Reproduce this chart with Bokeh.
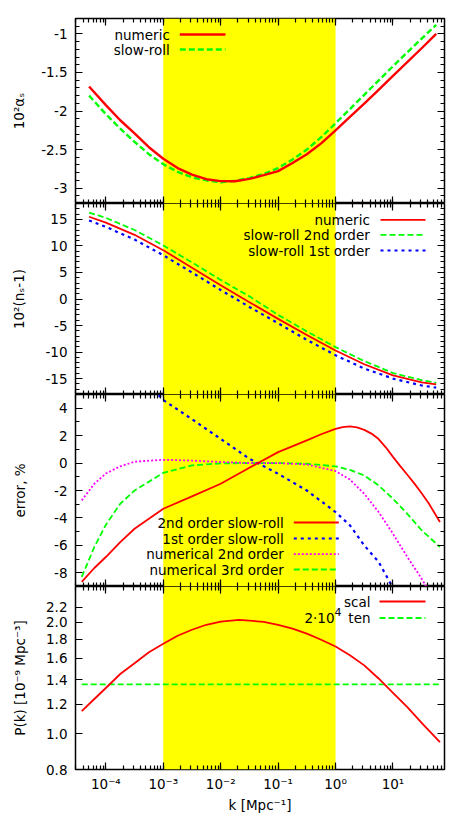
from bokeh.plotting import figure
from bokeh.models import BoxAnnotation, Label, Arrow, FixedTicker, LinearAxis, LogAxis, Range1d
from bokeh.layouts import column
from bokeh.embed import file_html
from bokeh.resources import INLINE

FONT = "DejaVu Sans"
FS = "13.5px"
FS_S = "11px"

# ---------------- data ----------------
band = [1.0e-3, 1.0]
x_lim = [2.96e-5, 79.0]
x_ticks = [1e-4, 1e-3, 1e-2, 1e-1, 1e0, 1e1]
x_tick_labels = ["10⁻⁴", "10⁻³", "10⁻²", "10⁻¹", "10⁰", "10¹"]
x_title = "k [Mpc⁻¹]"

# panel 1 : running alpha_s
k_alpha = [5.1e-5, 1.0e-4, 1.78e-4, 3.16e-4, 5.62e-4, 1.0e-3, 1.78e-3, 3.16e-3, 5.62e-3, 1.0e-2,
           1.78e-2, 3.16e-2, 5.62e-2, 0.1, 0.178, 0.316, 0.562, 1.0, 1.78, 3.16, 5.62, 10.0, 31.6, 56.6]
alpha_numeric = [-1.683, -1.924, -2.12, -2.29, -2.47, -2.62, -2.74, -2.826, -2.885, -2.91,
                 -2.912, -2.88, -2.833, -2.78, -2.675, -2.56, -2.42, -2.25, -2.075, -1.905, -1.725, -1.544, -1.186, -1.0]
alpha_slowroll = [-1.80, -2.04, -2.23, -2.40, -2.56, -2.69, -2.79, -2.86, -2.90, -2.925,
                  -2.905, -2.87, -2.815, -2.74, -2.63, -2.50, -2.34, -2.16, -1.975, -1.79, -1.605, -1.42, -1.06, -0.883]
alpha_lim = [-3.2, -0.8]
alpha_ticks = [-3.0, -2.5, -2.0, -1.5, -1.0]
alpha_tick_labels = ["-3", "-2.5", "-2", "-1.5", "-1"]
alpha_title = "10²αₛ"

# panel 2 : spectral index
k_ns = [5.1e-5, 1.0e-4, 3.16e-4, 1.0e-3, 3.16e-3, 1.0e-2, 3.16e-2, 0.1, 0.316, 1.0, 3.16, 10.0, 31.6, 56.6]
ns_numeric = [15.5, 14.4, 12.1, 9.2, 5.9, 2.6, -0.6, -3.75, -6.8, -9.7, -12.3, -14.4, -15.7, -16.1]
ns_sr2 = [16.3, 15.3, 13.0, 10.1, 6.9, 3.6, 0.5, -3.0, -6.1, -9.07, -11.7, -13.95, -15.3, -15.8]
ns_sr1 = [14.8, 13.6, 11.2, 8.25, 5.0, 1.7, -1.5, -4.57, -7.7, -10.6, -13.1, -15.0, -16.3, -16.7]
ns_lim = [-18, 18]
ns_ticks = [-15, -10, -5, 0, 5, 10, 15]
ns_tick_labels = ["-15", "-10", "-5", "0", "5", "10", "15"]
ns_title = "10²(nₛ-1)"

# panel 3 : errors in %
k_sr2 = [3.8e-5, 6.3e-5, 1.0e-4, 1.78e-4, 3.16e-4, 1.0e-3, 3.16e-3, 1.0e-2, 3.16e-2, 0.1, 0.316, 0.562,
         1.0, 1.33, 1.78, 2.37, 3.16, 4.22, 5.62, 7.5, 10.0, 13.3, 17.8, 23.7, 31.6, 42.2, 65.8]
err_sr2 = [-8.67, -7.65, -6.85, -5.76, -4.79, -3.33, -2.43, -1.51, -0.34, 0.8, 1.65, 2.1,
           2.5, 2.62, 2.67, 2.6, 2.42, 2.15, 1.75, 1.15, 0.45, -0.2, -0.85, -1.5, -2.2, -2.95, -4.3]
k_err = [3.8e-5, 6.3e-5, 1.0e-4, 1.78e-4, 3.16e-4, 1.0e-3, 3.16e-3, 1.0e-2, 3.16e-2, 0.1, 0.316,
         1.0, 1.78, 3.16, 5.62, 10.0, 17.8, 31.6, 65.8]
err_num2 = [-2.72, -1.51, -0.76, -0.24, 0.1, 0.24, 0.18, 0.08, 0.0, 0.0, -0.1,
            -0.58, -1.2, -2.24, -3.57, -5.15, -6.85, -8.43, -10.7]
err_num3 = [-8.3, -6.12, -4.5, -2.97, -2.0, -0.71, -0.17, -0.02, 0.0, 0.0, -0.05,
            -0.24, -0.5, -0.9, -1.63, -2.6, -3.7, -4.9, -6.12]
k_sr1 = [3.16e-4, 1.0e-3, 3.16e-3, 1.0e-2, 3.16e-2, 0.1, 0.316, 1.0, 1.78, 3.16, 5.62, 10.0]
err_sr1 = [6.8, 4.6, 3.2, 1.76, 0.32, -0.78, -2.0, -3.57, -4.54, -6.0, -7.2, -9.1]
err_lim = [-9, 5]
err_ticks = [-8, -6, -4, -2, 0, 2, 4]
err_tick_labels = ["-8", "-6", "-4", "-2", "0", "2", "4"]
err_title = "error, %"

# panel 4 : power spectra
k_pk = [3.8e-5, 6.3e-5, 1.0e-4, 1.78e-4, 3.16e-4, 5.62e-4, 1.0e-3, 1.78e-3, 3.16e-3, 5.62e-3, 1.0e-2,
        2.1e-2, 5.62e-2, 0.1, 0.178, 0.316, 0.562, 1.0, 1.78, 3.16, 5.62, 10.0, 17.8, 31.6, 65.8]
pk_scal = [1.15, 1.241, 1.329, 1.45, 1.55, 1.66, 1.75, 1.84, 1.91, 1.97, 2.01,
           2.03, 2.007, 1.97, 1.924, 1.865, 1.795, 1.72, 1.63, 1.53, 1.41, 1.29, 1.18, 1.07, 0.948]
k_ten = [3.8e-5, 65.8]
pk_ten = [1.36, 1.36]
pk_lim = [0.8, 2.5]
pk_ticks = [0.8, 1.0, 1.2, 1.4, 1.6, 1.8, 2.0, 2.2]
pk_tick_labels = ["0.8", "1.0", "1.2", "1.4", "1.6", "1.8", "2.0", "2.2"]
pk_title = "P(k) [10⁻⁹ Mpc⁻³]"

RED, GREEN, BLUE, MAGENTA = "#ff0000", "#00ff00", "#0000ff", "#ff00ff"

x_minor = [m * 10.0 ** e for e in range(-5, 2) for m in range(1, 10)
           if x_lim[0] < m * 10.0 ** e < x_lim[1]]


def style_axis(ax, ticker, show_labels, overrides=None, standoff=8):
    ax.ticker = ticker
    ax.axis_line_color = None
    ax.major_tick_in = 7
    ax.major_tick_out = 0
    ax.minor_tick_in = 4
    ax.minor_tick_out = 0
    ax.major_tick_line_color = "black"
    ax.minor_tick_line_color = "black"
    ax.major_tick_line_width = 1.2
    ax.minor_tick_line_width = 1.2
    ax.axis_label = None
    if show_labels:
        ax.major_label_text_font = FONT
        ax.major_label_text_font_size = FS
        ax.major_label_text_color = "black"
        ax.major_label_text_line_height = 1.0
        ax.major_label_standoff = standoff
        if overrides:
            ax.major_label_overrides = overrides
    else:
        ax.major_label_text_font_size = "1px"
        ax.major_label_text_alpha = 0.0
        ax.major_label_standoff = 0


def set_title(ax, text, standoff):
    ax.axis_label = text
    ax.axis_label_text_font = FONT
    ax.axis_label_text_font_size = FS
    ax.axis_label_text_font_style = "normal"
    ax.axis_label_text_color = "black"
    ax.axis_label_text_line_height = 1.0
    ax.axis_label_standoff = int(standoff)


def make_panel(frame_h, ylim, yticks, ylabels, yminor, ytitle, ystand,
               y_log=False, top=0, bottom=0, xlabels=False):
    p = figure(frame_width=369, frame_height=frame_h, x_axis_type="log",
               y_axis_type="log" if y_log else "linear",
               x_range=Range1d(*x_lim), y_range=Range1d(*ylim),
               output_backend="svg", toolbar_location=None,
               min_border_left=75, min_border_right=12,
               min_border_top=top, min_border_bottom=bottom,
               background_fill_color="white", border_fill_color="white")
    p.xgrid.visible = False
    p.ygrid.visible = False
    p.outline_line_color = "black"
    p.outline_line_width = 1.5
    p.outline_line_alpha = 1.0
    AxY = LogAxis if y_log else LinearAxis
    p.add_layout(LogAxis(), "above")
    p.add_layout(AxY(), "right")
    xt = FixedTicker(ticks=x_ticks, minor_ticks=x_minor)
    yt = FixedTicker(ticks=yticks, minor_ticks=yminor)
    style_axis(p.below[0], xt, xlabels, dict(zip(x_ticks, x_tick_labels)), standoff=6)
    style_axis(p.above[0], xt, False)
    style_axis(p.left[0], yt, True, dict(zip(yticks, ylabels)))
    style_axis(p.right[0], yt, False)
    set_title(p.left[0], ytitle, ystand)
    p.add_layout(BoxAnnotation(left=band[0], right=band[1], fill_color="#ffff00", fill_alpha=1.0,
                               line_alpha=0.0, level="underlay"))
    return p


def txt(p, x, y, s, size=FS, align="right", baseline="middle"):
    p.add_layout(Label(x=x, y=y, x_units="screen", y_units="screen", text=s,
                       text_font=FONT, text_font_size=size, text_color="black",
                       text_align=align, text_baseline=baseline))


def sample(p, x0, x1, y, color, width, dash="solid"):
    p.add_layout(Arrow(end=None, start=None, x_start=x0, y_start=y, x_end=x1, y_end=y,
                       start_units="screen", end_units="screen",
                       line_color=color, line_width=width, line_dash=dash))


DASH_G = "6 3"
DOT_B = "3 4"
DOT_M = "2 2"

# ---------------- panel 1 ----------------
p1 = make_panel(185, alpha_lim, alpha_ticks, alpha_tick_labels,
                [round(-3.2 + 0.1 * i, 2) for i in range(25)], alpha_title, 11, top=18)
p1.line(k_alpha, alpha_slowroll, line_color=GREEN, line_width=2.4, line_dash=DASH_G)
p1.line(k_alpha, alpha_numeric, line_color=RED, line_width=2.4, line_join="round")
txt(p1, 94.3, 169, "numeric")
sample(p1, 104.3, 150, 169, RED, 2.4)
txt(p1, 94.3, 154, "slow-roll")
sample(p1, 104.3, 150, 154, GREEN, 2.4, DASH_G)

# ---------------- panel 2 ----------------
p2 = make_panel(191, ns_lim, ns_ticks, ns_tick_labels, list(range(-18, 19)), ns_title, 15)
p2.line(k_ns, ns_sr2, line_color=GREEN, line_width=1.8, line_dash=DASH_G)
p2.line(k_ns, ns_sr1, line_color=BLUE, line_width=2.2, line_dash=DOT_B)
p2.line(k_ns, ns_numeric, line_color=RED, line_width=1.8, line_join="round")
txt(p2, 294.3, 174.7, "numeric")
sample(p2, 305, 350, 174.7, RED, 1.8)
txt(p2, 294.3, 159.7, "slow-roll 2nd order")
sample(p2, 305, 350, 159.7, GREEN, 1.8, DASH_G)
txt(p2, 294.3, 144, "slow-roll 1st order")
sample(p2, 305, 350, 144, BLUE, 2.2, DOT_B)

# ---------------- panel 3 ----------------
p3 = make_panel(192, err_lim, err_ticks, err_tick_labels, list(range(-9, 6)), err_title, 23)
p3.line(k_err, err_num3, line_color=GREEN, line_width=1.8, line_dash=DASH_G)
p3.line(k_err, err_num2, line_color=MAGENTA, line_width=1.8, line_dash=DOT_M)
p3.line(k_sr1, err_sr1, line_color=BLUE, line_width=2.2, line_dash=DOT_B)
p3.line(k_sr2, err_sr2, line_color=RED, line_width=1.8, line_join="round")
txt(p3, 208.3, 64, "2nd order slow-roll")
sample(p3, 218.3, 263.3, 64, RED, 1.8)
txt(p3, 208.3, 48, "1st order slow-roll")
sample(p3, 218.3, 263.3, 48, BLUE, 2.2, DOT_B)
txt(p3, 208.3, 32.3, "numerical 2nd order")
sample(p3, 218.3, 263.3, 32.3, MAGENTA, 1.8, DOT_M)
txt(p3, 208.3, 17, "numerical 3rd order")
sample(p3, 218.3, 263.3, 17, GREEN, 1.8, DASH_G)

# ---------------- panel 4 ----------------
p4 = make_panel(183, pk_lim, pk_ticks, pk_tick_labels, [], pk_title, 15,
                y_log=True, bottom=47, xlabels=True)
set_title(p4.below[0], x_title, 2)
p4.line(k_ten, pk_ten, line_color=GREEN, line_width=1.8, line_dash=DASH_G)
p4.line(k_pk, pk_scal, line_color=RED, line_width=1.8, line_join="round")
txt(p4, 295, 168, "scal")
sample(p4, 304, 350, 168, RED, 1.8)
txt(p4, 295, 151.5, "ten")
txt(p4, 259, 157.5, "4", size=FS_S, align="left")
txt(p4, 259, 151.5, "2·10")
sample(p4, 304, 350, 151.5, GREEN, 1.8, DASH_G)

layout = column(p1, p2, p3, p4, spacing=0)
open("out.html", "w").write(file_html(layout, INLINE))
